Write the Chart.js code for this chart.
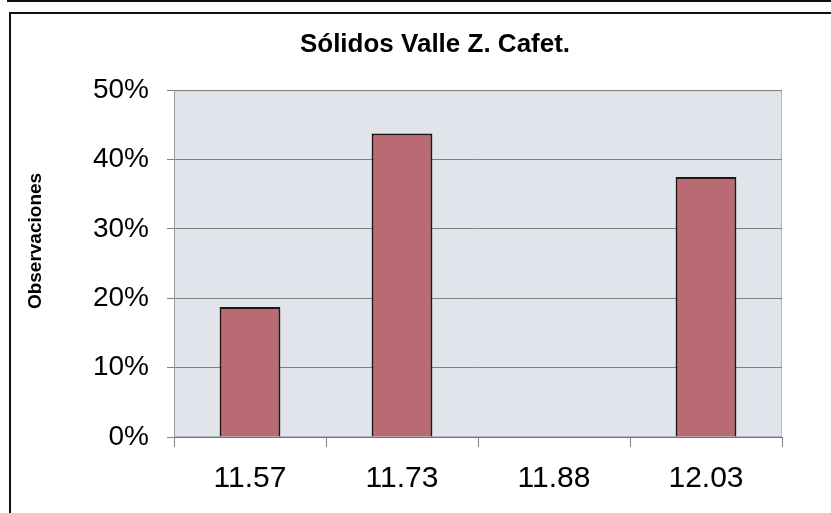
<!DOCTYPE html>
<html>
<head>
<meta charset="utf-8">
<script src="https://cdn.jsdelivr.net/npm/chart.js@4.4.1/dist/chart.umd.min.js"></script>
<style>
  html, body { margin: 0; padding: 0; background: #fff; overflow: hidden; }
  #wrap { position: relative; width: 831px; height: 513px; }
  #topLine { position: absolute; left: 7px; top: 0; width: 824px; height: 2px; background: #111; }
  #frame { position: absolute; left: 9px; top: 12px; width: 840px; height: 520px; border: 2px solid #111; }
  canvas { position: absolute; left: 0; top: 0; }
</style>
</head>
<body>
<div id="wrap">
  <div id="topLine"></div>
  <div id="frame"></div>
  <canvas id="chart" width="831" height="513"></canvas>
</div>
<script>
const categories = ['11.57', '11.73', '11.88', '12.03'];
const shares = [0.1875, 0.4375, 0, 0.375];
const chartTitle = 'Sólidos Valle Z. Cafet.';
const yTitle = 'Observaciones';

const FONT = "'Liberation Sans', Arial, sans-serif";

const plotBackground = {
  id: 'plotBackground',
  beforeDraw(chart) {
    const { ctx, chartArea: a } = chart;
    ctx.save();
    ctx.fillStyle = '#e1e4ea';
    ctx.fillRect(a.left, a.top, a.right - a.left, a.bottom - a.top);
    ctx.strokeStyle = '#b4b8c0';
    ctx.lineWidth = 1;
    ctx.strokeRect(a.left + 0.5, a.top + 0.5, a.right - a.left - 1, a.bottom - a.top - 1);
    ctx.restore();
  }
};

// y axis title sits a bit above the plot middle in the original
const sideTitle = {
  id: 'sideTitle',
  afterDraw(chart) {
    const { ctx } = chart;
    ctx.save();
    ctx.translate(36, 241);
    ctx.rotate(-Math.PI / 2);
    ctx.font = `bold 19px ${FONT}`;
    ctx.fillStyle = '#000';
    ctx.textAlign = 'center';
    ctx.textBaseline = 'middle';
    ctx.fillText(yTitle, 0, 0);
    ctx.restore();
  }
};

new Chart(document.getElementById('chart'), {
  type: 'bar',
  data: {
    labels: categories,
    datasets: [{
      data: shares,
      backgroundColor: '#b96a73',
      borderColor: '#1f170f',
      borderWidth: 2,
      barPercentage: 0.4,
      categoryPercentage: 1
    }]
  },
  options: {
    responsive: false,
    animation: false,
    layout: { padding: { left: 88, right: 49, top: 0, bottom: 0 } },
    plugins: {
      legend: { display: false },
      tooltip: { enabled: false },
      title: {
        display: true,
        text: chartTitle,
        color: '#000',
        font: { family: FONT, size: 26, weight: 'bold' },
        padding: { top: 29, bottom: 30 }
      }
    },
    scales: {
      x: {
        afterFit: s => { s.height = 76; },
        grid: { drawOnChartArea: false, color: '#808080', tickLength: 10 },
        border: { color: '#707070', width: 1 },
        ticks: { color: '#000', padding: 14, font: { family: FONT, size: 30 } }
      },
      y: {
        min: 0,
        max: 0.5,
        afterFit: s => { s.width = 86; },
        grid: { color: '#808080', tickLength: 7 },
        border: { color: '#9a9a9a', width: 1 },
        ticks: {
          stepSize: 0.1,
          color: '#000',
          padding: 18,
          font: { family: FONT, size: 28 },
          callback: v => Math.round(v * 100) + '%'
        }
      }
    }
  },
  plugins: [plotBackground, sideTitle]
});
</script>
</body>
</html>
